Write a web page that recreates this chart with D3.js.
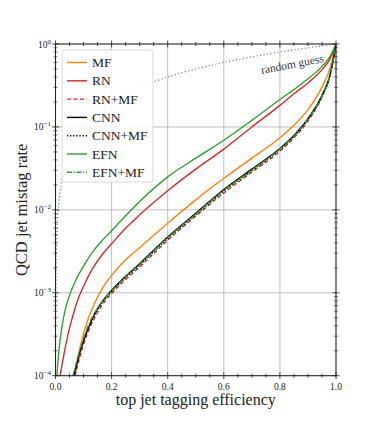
<!DOCTYPE html>
<html lang="en">
<head>
  <meta charset="UTF-8">
  <title>ROC</title>
  <style>
    body { margin: 0; background: #fff; }
    text { font-family: 'Liberation Serif', 'DejaVu Serif', serif; fill: #222; }
  </style>
</head>
<body>
<svg id="svg" width="374" height="442"></svg>
<script src="https://d3js.org/d3.v7.min.js"></script>
<script>
// --- data ---
const effEFN = [0.005, 0.012, 0.022, 0.035, 0.05, 0.075, 0.1, 0.135, 0.17, 0.2, 0.25, 0.3, 0.4, 0.5, 0.6, 0.7, 0.8, 0.85, 0.9, 0.95, 0.98, 1.0]
const mistagEFN = [1.0e-4, 2.0e-4, 3.7e-4, 6.3e-4, 9.3e-4, 1.48e-3, 2.1e-3, 3.2e-3, 4.4e-3, 5.6e-3, 8.5e-3, 1.26e-2, 2.5e-2, 4.2e-2, 6.9e-2, 0.12, 0.214, 0.282, 0.38, 0.537, 0.72, 1.0]

const effRN = [0.016, 0.03, 0.045, 0.06, 0.08, 0.1, 0.13, 0.17, 0.2, 0.25, 0.3, 0.4, 0.5, 0.6, 0.7, 0.8, 0.85, 0.9, 0.95, 0.98, 1.0]
const mistagRN = [1.0e-4, 1.8e-4, 3.2e-4, 5.0e-4, 8.3e-4, 1.2e-3, 1.9e-3, 3.0e-3, 3.9e-3, 6.0e-3, 8.7e-3, 1.7e-2, 3.1e-2, 5.4e-2, 0.1, 0.182, 0.251, 0.339, 0.49, 0.676, 1.0]

const effMF = [0.07, 0.08, 0.095, 0.115, 0.14, 0.17, 0.2, 0.25, 0.3, 0.4, 0.5, 0.6, 0.7, 0.8, 0.85, 0.9, 0.95, 0.98, 1.0]
const mistagMF = [1.0e-4, 1.66e-4, 2.8e-4, 4.7e-4, 7.6e-4, 1.17e-3, 1.62e-3, 2.5e-3, 3.5e-3, 6.9e-3, 1.32e-2, 2.4e-2, 4.2e-2, 7.4e-2, 0.105, 0.162, 0.302, 0.525, 1.0]

const effCNN = [0.066, 0.08, 0.1, 0.123, 0.147, 0.17, 0.2, 0.25, 0.3, 0.4, 0.5, 0.6, 0.7, 0.8, 0.85, 0.9, 0.95, 0.98, 1.0]
const mistagCNN = [1.0e-4, 1.58e-4, 2.63e-4, 4.2e-4, 6.2e-4, 8.1e-4, 1.07e-3, 1.58e-3, 2.24e-3, 4.7e-3, 9.1e-3, 1.76e-2, 3.1e-2, 5.5e-2, 7.9e-2, 0.126, 0.24, 0.44, 1.0]

const effRNMF = [0.07, 0.083, 0.1, 0.123, 0.15, 0.17, 0.2, 0.25, 0.3, 0.4, 0.5, 0.6, 0.7, 0.8, 0.85, 0.9, 0.95, 0.98, 1.0]
const mistagRNMF = [1.0e-4, 1.5e-4, 2.4e-4, 3.8e-4, 5.8e-4, 7.4e-4, 9.8e-4, 1.45e-3, 2.05e-3, 4.3e-3, 8.4e-3, 1.6e-2, 2.85e-2, 5.1e-2, 7.4e-2, 0.118, 0.23, 0.43, 1.0]

const effCNNMF = [0.064, 0.08, 0.1, 0.123, 0.147, 0.17, 0.2, 0.25, 0.3, 0.4, 0.5, 0.6, 0.7, 0.8, 0.85, 0.9, 0.95, 0.98, 1.0]
const mistagCNNMF = [1.0e-4, 1.55e-4, 2.55e-4, 4.1e-4, 6.0e-4, 7.9e-4, 1.03e-3, 1.52e-3, 2.15e-3, 4.5e-3, 8.7e-3, 1.68e-2, 2.95e-2, 5.3e-2, 7.6e-2, 0.122, 0.235, 0.435, 1.0]

const effEFNMF = [0.062, 0.078, 0.097, 0.12, 0.147, 0.17, 0.2, 0.25, 0.3, 0.4, 0.5, 0.6, 0.7, 0.8, 0.85, 0.9, 0.95, 0.98, 1.0]
const mistagEFNMF = [1.0e-4, 1.6e-4, 2.65e-4, 4.3e-4, 6.3e-4, 8.2e-4, 1.05e-3, 1.55e-3, 2.2e-3, 4.6e-3, 8.9e-3, 1.72e-2, 3.0e-2, 5.4e-2, 7.7e-2, 0.124, 0.238, 0.437, 1.0]

// random guess: mistag == efficiency
const effRandom = [0.0001, 0.0002, 0.0005, 0.001, 0.002, 0.005, 0.01, 0.02, 0.03, 0.05, 0.07, 0.1, 0.15, 0.2, 0.3, 0.4, 0.5, 0.6, 0.7, 0.8, 0.9, 1.0]
const mistagRandom = [0.0001, 0.0002, 0.0005, 0.001, 0.002, 0.005, 0.01, 0.02, 0.03, 0.05, 0.07, 0.1, 0.15, 0.2, 0.3, 0.4, 0.5, 0.6, 0.7, 0.8, 0.9, 1.0]

const xTicks = [0, 0.2, 0.4, 0.6, 0.8, 1.0]
const yExps = [0, -1, -2, -3, -4]

const series = [
  { name: 'MF', eff: effMF, mis: mistagMF, color: '#ff7f0e', dash: null },
  { name: 'RN', eff: effRN, mis: mistagRN, color: '#d62728', dash: null },
  { name: 'RN+MF', eff: effRNMF, mis: mistagRNMF, color: '#d62728', dash: '4,2.5' },
  { name: 'CNN', eff: effCNN, mis: mistagCNN, color: '#000', dash: null },
  { name: 'CNN+MF', eff: effCNNMF, mis: mistagCNNMF, color: '#000', dash: '1.3,1.8' },
  { name: 'EFN', eff: effEFN, mis: mistagEFN, color: '#2ca02c', dash: null },
  { name: 'EFN+MF', eff: effEFNMF, mis: mistagEFNMF, color: '#2ca02c', dash: '5,1.6,1.3,1.6' }
]

const L = 55.5, R = 336, T = 44, B = 375.7
const svg = d3.select('#svg')
const x = d3.scaleLinear().domain([0, 1]).range([L, R])
const y = d3.scaleLog().domain([1e-4, 1]).range([B, T])

svg.append('defs').append('clipPath').attr('id', 'clip')
  .append('rect').attr('x', L).attr('y', T).attr('width', R - L).attr('height', B - T)

// grid
const grid = svg.append('g').attr('stroke', '#b0b0b0').attr('stroke-width', 0.8)
xTicks.slice(1, -1).forEach(t => {
  grid.append('line').attr('x1', x(t)).attr('x2', x(t)).attr('y1', T).attr('y2', B)
})
yExps.slice(1, -1).forEach(e => {
  grid.append('line').attr('x1', L).attr('x2', R).attr('y1', y(Math.pow(10, e))).attr('y2', y(Math.pow(10, e)))
})

const plot = svg.append('g').attr('clip-path', 'url(#clip)')
const line = d3.line().x(d => x(d[0])).y(d => y(d[1])).curve(d3.curveMonotoneX)

// random guess
plot.append('path')
  .attr('d', line(effRandom.map((e, i) => [e, mistagRandom[i]])))
  .attr('fill', 'none').attr('stroke', '#7a7a7a').attr('stroke-width', 1.2)
  .attr('stroke-dasharray', '1.2,2.3')

series.forEach(s => {
  plot.append('path')
    .attr('d', line(s.eff.map((e, i) => [e, s.mis[i]])))
    .attr('fill', 'none').attr('stroke', s.color).attr('stroke-width', 1.35)
    .attr('stroke-dasharray', s.dash)
})

svg.append('text').text('random guess')
  .attr('transform', 'translate(293,68) rotate(-11)')
  .attr('text-anchor', 'middle').style('font-size', '11.5px').style('fill', '#333')

// frame & ticks
const ax = svg.append('g').attr('stroke', '#222')
ax.append('rect').attr('x', L).attr('y', T).attr('width', R - L).attr('height', B - T)
  .attr('fill', 'none').attr('stroke-width', 1.1)
const xMinor = d3.range(0, 1.0001, 0.05)
xMinor.forEach((t, i) => {
  const len = i % 4 === 0 ? 3.5 : 2
  ;[B, T].forEach(yy => {
    ax.append('line').attr('x1', x(t)).attr('x2', x(t)).attr('y1', yy - len).attr('y2', yy + len).attr('stroke-width', 0.8)
  })
})
yExps.forEach(e => {
  const v = Math.pow(10, e)
  ;[L, R].forEach(xx => {
    ax.append('line').attr('x1', xx - 3.5).attr('x2', xx + 3.5).attr('y1', y(v)).attr('y2', y(v)).attr('stroke-width', 0.8)
  })
  if (e > -4) {
    d3.range(2, 10).forEach(k => {
      const m = k * Math.pow(10, e - 1)
      ;[L, R].forEach(xx => {
        ax.append('line').attr('x1', xx - 2).attr('x2', xx + 2).attr('y1', y(m)).attr('y2', y(m)).attr('stroke-width', 0.6)
      })
    })
  }
})

// tick labels
xTicks.forEach(t => {
  svg.append('text').text(d3.format('.1f')(t))
    .attr('x', x(t)).attr('y', B + 14).attr('text-anchor', 'middle').style('font-size', '9.5px')
})
yExps.forEach(e => {
  const txt = svg.append('text').attr('x', 51).attr('y', y(Math.pow(10, e)) + 3.5)
    .attr('text-anchor', 'end').style('font-size', '9.5px')
  txt.append('tspan').text('10')
  txt.append('tspan').text(e === 0 ? '0' : '\u2212' + (-e)).attr('dy', -4).style('font-size', '7px')
})

// axis titles
svg.append('text').text('top jet tagging efficiency')
  .attr('x', (L + R) / 2).attr('y', 405).attr('text-anchor', 'middle').style('font-size', '16px')
svg.append('text').text('QCD jet mistag rate')
  .attr('transform', `translate(27,${(T + B) / 2}) rotate(-90)`)
  .attr('text-anchor', 'middle').style('font-size', '16.5px')

// legend
const lg = svg.append('g')
lg.append('rect').attr('x', 62).attr('y', 50).attr('width', 91).attr('height', 132).attr('rx', 2.5)
  .attr('fill', 'rgba(255,255,255,0.85)').attr('stroke', '#d0d0d0').attr('stroke-width', 0.8)
series.forEach((s, i) => {
  const yy = 62.5 + i * 18.3
  lg.append('line').attr('x1', 67).attr('x2', 87).attr('y1', yy).attr('y2', yy)
    .attr('stroke', s.color).attr('stroke-width', 1.4).attr('stroke-dasharray', s.dash)
  lg.append('text').text(s.name).attr('x', 92).attr('y', yy + 4.5).style('font-size', '13.5px')
})
</script>
</body>
</html>
